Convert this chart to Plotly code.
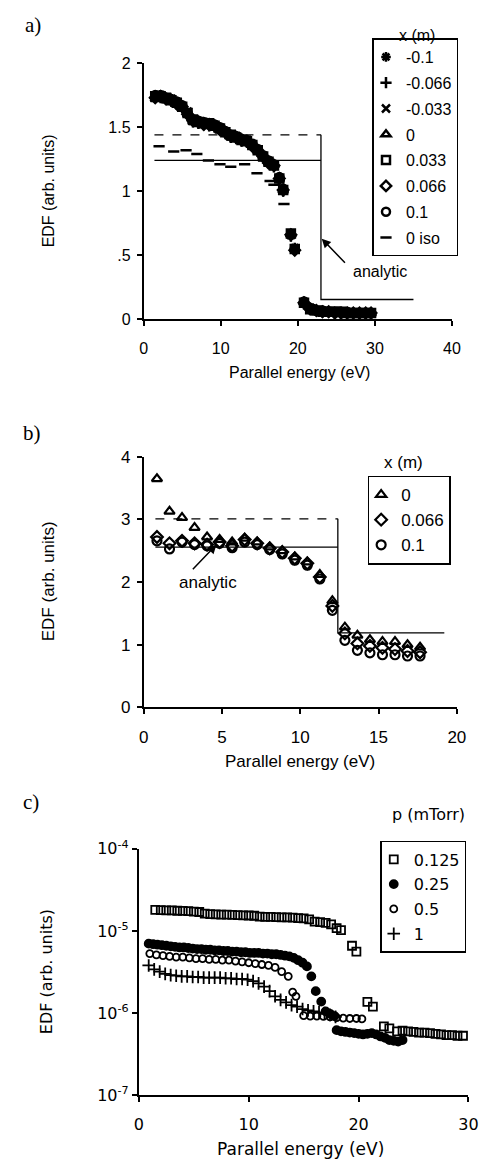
import plotly.graph_objects as go

# ---------------- Panel a ----------------
a_x = [1.5, 2.2, 2.9, 3.6, 4.3, 5.0, 5.7, 6.4, 7.1, 7.8,
       8.5, 9.2, 9.9, 10.6, 11.3, 12.0, 12.7, 13.4, 14.1, 14.8,
       15.5, 16.2, 16.9, 17.6, 18.1, 19.1, 19.6, 20.8, 21.6, 22.4,
       23.2, 24.0, 24.8, 25.6, 26.4, 27.2, 28.0, 28.8, 29.5]
a_m0100 = [1.75, 1.74, 1.73, 1.71, 1.70, 1.67, 1.61, 1.56, 1.55, 1.53,
           1.52, 1.52, 1.50, 1.47, 1.44, 1.42, 1.41, 1.39, 1.37, 1.33,
           1.28, 1.24, 1.21, 1.11, 1.02, 0.67, 0.56, 0.14, 0.08, 0.07,
           0.07, 0.06, 0.06, 0.06, 0.05, 0.05, 0.05, 0.05, 0.05]
a_m0066 = [1.73, 1.73, 1.72, 1.70, 1.68, 1.65, 1.59, 1.54, 1.53, 1.52,
           1.51, 1.50, 1.48, 1.45, 1.42, 1.41, 1.39, 1.38, 1.35, 1.31,
           1.26, 1.22, 1.19, 1.09, 1.00, 0.65, 0.54, 0.12, 0.08, 0.07,
           0.06, 0.06, 0.05, 0.05, 0.05, 0.05, 0.04, 0.04, 0.04]
a_m0033 = [1.74, 1.75, 1.72, 1.72, 1.69, 1.66, 1.62, 1.55, 1.54, 1.54,
           1.52, 1.51, 1.49, 1.46, 1.43, 1.43, 1.40, 1.40, 1.36, 1.32,
           1.27, 1.23, 1.20, 1.10, 1.01, 0.66, 0.55, 0.13, 0.09, 0.07,
           0.06, 0.06, 0.06, 0.05, 0.05, 0.05, 0.05, 0.05, 0.05]
a_p0000 = [1.72, 1.73, 1.71, 1.70, 1.68, 1.65, 1.60, 1.54, 1.53, 1.52,
           1.51, 1.50, 1.48, 1.45, 1.42, 1.41, 1.39, 1.38, 1.35, 1.31,
           1.26, 1.22, 1.21, 1.09, 1.00, 0.66, 0.55, 0.13, 0.08, 0.06,
           0.06, 0.05, 0.05, 0.05, 0.05, 0.05, 0.05, 0.04, 0.04]
a_p0033 = [1.74, 1.74, 1.73, 1.71, 1.69, 1.66, 1.61, 1.56, 1.54, 1.53,
           1.53, 1.51, 1.49, 1.46, 1.44, 1.42, 1.40, 1.39, 1.36, 1.32,
           1.27, 1.23, 1.20, 1.10, 1.01, 0.67, 0.55, 0.13, 0.08, 0.07,
           0.06, 0.06, 0.06, 0.06, 0.05, 0.05, 0.05, 0.05, 0.05]
a_p0066 = [1.73, 1.74, 1.72, 1.71, 1.68, 1.66, 1.60, 1.55, 1.54, 1.52,
           1.52, 1.51, 1.48, 1.46, 1.43, 1.42, 1.40, 1.39, 1.35, 1.32,
           1.27, 1.22, 1.20, 1.10, 1.01, 0.66, 0.54, 0.13, 0.08, 0.07,
           0.06, 0.06, 0.05, 0.05, 0.05, 0.05, 0.05, 0.05, 0.05]
a_p0100 = [1.75, 1.75, 1.73, 1.72, 1.70, 1.67, 1.61, 1.56, 1.55, 1.54,
           1.52, 1.52, 1.50, 1.47, 1.44, 1.43, 1.41, 1.40, 1.37, 1.33,
           1.28, 1.24, 1.21, 1.11, 1.02, 0.66, 0.55, 0.14, 0.09, 0.07,
           0.07, 0.06, 0.06, 0.06, 0.06, 0.05, 0.05, 0.05, 0.05]
a_iso_x = [2.0, 3.9, 5.5, 6.9, 8.4, 9.9, 11.3, 13.1, 14.7, 16.4, 16.9, 18.2]
a_iso_y = [1.35, 1.31, 1.32, 1.29, 1.24, 1.21, 1.19, 1.21, 1.14, 1.08, 1.05, 0.90]
a_names = ["-0.1", "-0.066", "-0.033", "0", "0.033", "0.066", "0.1"]
a_series = [a_m0100, a_m0066, a_m0033, a_p0000, a_p0033, a_p0066, a_p0100]
a_symbols = ["asterisk-open", "cross-thin-open", "x-thin-open", "triangle-up-open",
             "square-open", "diamond-open", "circle-open"]
# analytic curves
a_an_dash_x = [1.4, 23.0]
a_an_dash_y = [1.44, 1.44]
a_an_solid_x = [1.4, 23.0, None, 23.0, 23.0, 35.0]
a_an_solid_y = [1.24, 1.24, None, 1.44, 0.155, 0.155]
a_xticks = [0, 10, 20, 30, 40]
a_yticks = [0, 0.5, 1, 1.5, 2]
a_yticktext = ["0", ".5", "1", "1.5", "2"]

# ---------------- Panel b ----------------
b_x = [0.85, 1.65, 2.45, 3.25, 4.05, 4.85, 5.65, 6.45, 7.25, 8.05, 8.85,
       9.65, 10.45, 11.25, 12.05, 12.85, 13.65, 14.45, 15.25, 16.05, 16.85, 17.65]
b_tri = [3.65, 3.13, 3.03, 2.87, 2.72, 2.68, 2.64, 2.70, 2.64, 2.56, 2.50,
         2.40, 2.32, 2.12, 1.70, 1.28, 1.15, 1.08, 1.05, 1.05, 1.00, 0.96]
b_dia = [2.72, 2.62, 2.66, 2.62, 2.60, 2.64, 2.58, 2.68, 2.62, 2.54, 2.48,
         2.38, 2.30, 2.08, 1.62, 1.18, 1.02, 0.98, 0.95, 0.93, 0.90, 0.88]
b_cir = [2.66, 2.53, 2.64, 2.60, 2.58, 2.62, 2.55, 2.64, 2.60, 2.52, 2.45,
         2.35, 2.27, 2.05, 1.55, 1.07, 0.91, 0.87, 0.84, 0.84, 0.82, 0.82]
b_names = ["0", "0.066", "0.1"]
b_series = [b_tri, b_dia, b_cir]
b_symbols = ["triangle-up-open", "diamond-open", "circle-open"]
b_an_dash_x = [0.75, 12.4]
b_an_dash_y = [3.01, 3.01]
b_an_solid_x = [0.75, 12.4, None, 12.4, 12.4, 19.2]
b_an_solid_y = [2.56, 2.56, None, 3.01, 1.19, 1.19]
b_xticks = [0, 5, 10, 15, 20]
b_yticks = [0, 1, 2, 3, 4]

# ---------------- Panel c (EDF in units of 1e-6) ----------------
c_sq_x = [1.5, 2.0, 2.5, 3.0, 3.5, 4.0, 4.5, 5.0, 5.5, 6.0,
          6.5, 7.0, 7.5, 8.0, 8.5, 9.0, 9.5, 10.0, 10.5, 11.0,
          11.5, 12.0, 12.5, 13.0, 13.5, 14.0, 14.5, 15.0, 15.5, 16.0,
          16.5, 17.0, 17.5, 18.0, 18.4, 19.4, 19.8, 20.8, 21.3, 22.3,
          22.8, 23.5, 24.0, 24.5, 25.0, 25.5, 26.0, 26.5, 27.0, 27.5,
          28.0, 28.5, 29.0, 29.5]
c_sq_y = [18.0, 17.9, 17.8, 17.8, 17.6, 17.5, 17.4, 17.2, 17.0, 16.2,
          16.0, 15.9, 15.8, 15.8, 15.7, 15.6, 15.5, 15.4, 15.3, 14.9,
          14.8, 14.8, 14.7, 14.6, 14.6, 14.5, 14.3, 14.2, 13.8, 13.0,
          12.8, 12.5, 12.0, 10.8, 10.2, 6.6, 5.6, 1.37, 1.2, 0.69,
          0.65, 0.60, 0.61, 0.60, 0.59, 0.58, 0.58, 0.57, 0.56, 0.55,
          0.54, 0.54, 0.53, 0.53]
c_fc_x = [0.9, 1.3, 1.7, 2.1, 2.5, 2.9, 3.3, 3.7, 4.1, 4.5,
          4.9, 5.3, 5.7, 6.1, 6.5, 6.9, 7.3, 7.7, 8.1, 8.5,
          8.9, 9.3, 9.7, 10.1, 10.5, 10.9, 11.3, 11.7, 12.1, 12.5,
          12.9, 13.3, 13.7, 14.1, 14.5, 14.9, 15.3, 15.7, 16.1, 16.6,
          17.0, 17.4, 17.8, 18.0, 18.4, 18.8, 19.2, 19.6, 20.0, 20.4,
          20.8, 21.2, 21.6, 22.0, 22.4, 22.8, 23.2, 23.6, 24.0]
c_fc_y = [7.0, 6.9, 6.8, 6.7, 6.6, 6.5, 6.4, 6.3, 6.3, 6.2,
          6.1, 6.0, 6.0, 5.9, 5.9, 5.8, 5.8, 5.7, 5.7, 5.6,
          5.6, 5.5, 5.5, 5.4, 5.4, 5.4, 5.3, 5.3, 5.2, 5.2,
          5.1, 5.0, 4.9, 4.7, 4.4, 4.1, 3.7, 2.8, 1.85, 1.38,
          1.05, 0.98, 0.92, 0.62, 0.60, 0.59, 0.58, 0.57, 0.56, 0.55,
          0.56, 0.57, 0.55, 0.52, 0.50, 0.47, 0.46, 0.45, 0.47]
c_oc_x = [1.0, 1.6, 2.2, 2.8, 3.4, 4.0, 4.6, 5.2, 5.8, 6.4,
          7.0, 7.6, 8.2, 8.8, 9.4, 10.0, 10.6, 11.2, 11.8, 12.4,
          13.0, 13.6, 14.0, 14.3, 15.0, 15.6, 16.2, 16.8, 17.4, 18.0,
          18.6, 19.2, 19.8, 20.3]
c_oc_y = [5.3, 5.1, 5.0, 4.9, 4.8, 4.8, 4.7, 4.6, 4.6, 4.5,
          4.5, 4.4, 4.4, 4.3, 4.2, 4.1, 4.0, 3.9, 3.8, 3.6,
          3.2, 2.8, 1.8, 1.6, 0.93, 0.92, 0.92, 0.91, 0.90, 0.88,
          0.87, 0.86, 0.86, 0.85]
c_pl_x = [0.9, 1.4, 1.9, 2.4, 2.9, 3.4, 3.9, 4.4, 4.9, 5.4,
          5.9, 6.4, 6.9, 7.4, 7.9, 8.4, 8.9, 9.4, 9.9, 10.4,
          10.9, 11.4, 11.9, 12.4, 12.9, 13.4, 13.9, 14.4, 14.9, 15.4,
          15.9, 16.4, 16.9, 17.4, 17.9]
c_pl_y = [3.8, 3.4, 3.2, 3.0, 2.9, 2.85, 2.8, 2.8, 2.75, 2.75,
          2.7, 2.7, 2.7, 2.7, 2.65, 2.65, 2.6, 2.6, 2.55, 2.45,
          2.3, 2.1, 1.85, 1.6, 1.45, 1.35, 1.25, 1.2, 1.12, 1.08,
          1.05, 1.02, 1.0, 0.95, 0.9]
c_unit = 1e-6
c_names = ["0.125", "0.25", "0.5", "1"]
c_xs = [c_sq_x, c_fc_x, c_oc_x, c_pl_x]
c_ys = [c_sq_y, c_fc_y, c_oc_y, c_pl_y]
c_symbols = ["square-open", "circle", "circle-open", "cross-thin-open"]
c_sizes = [8, 8, 7, 9]
c_xticks = [0, 10, 20, 30]
c_yticks = [1e-7, 1e-6, 1e-5, 1e-4]
c_yticktext = ["10<sup>-7</sup>", "10<sup>-6</sup>", "10<sup>-5</sup>", "10<sup>-4</sup>"]

FONT = "Liberation Sans, Arial, sans-serif"
FONT_C = "DejaVu Sans, Verdana, sans-serif"
W, H = 494, 1175


def px(xp):
    return xp / W


def py(yp):
    return 1 - yp / H


fig = go.Figure()

# Panel a traces
fig.add_trace(go.Scatter(x=a_an_dash_x, y=a_an_dash_y, mode="lines",
                         line=dict(color="black", width=1.3, dash="dash"),
                         showlegend=False, xaxis="x", yaxis="y",
                         legend="legend", legendgroup="a0"))
fig.add_trace(go.Scatter(x=a_an_solid_x, y=a_an_solid_y, mode="lines",
                         line=dict(color="black", width=1.3),
                         showlegend=False, xaxis="x", yaxis="y",
                         legend="legend", legendgroup="a0"))
for i, (nm, ys, sym) in enumerate(zip(a_names, a_series, a_symbols)):
    fig.add_trace(go.Scatter(x=a_x, y=ys, mode="markers", name=nm,
                             marker=dict(symbol=sym, size=8, color="black",
                                         line=dict(color="black", width=2.5)),
                             xaxis="x", yaxis="y", legend="legend",
                             legendgroup="a%d" % i))
fig.add_trace(go.Scatter(x=a_iso_x, y=a_iso_y, mode="markers", name="0 iso",
                         marker=dict(symbol="line-ew-open", size=8, color="black",
                                     line=dict(color="black", width=2.5)),
                         xaxis="x", yaxis="y", legend="legend", legendgroup="a_iso"))

# Panel b traces
fig.add_trace(go.Scatter(x=b_an_dash_x, y=b_an_dash_y, mode="lines",
                         line=dict(color="black", width=1.3, dash="dash"),
                         showlegend=False, xaxis="x2", yaxis="y2",
                         legend="legend2", legendgroup="b0"))
fig.add_trace(go.Scatter(x=b_an_solid_x, y=b_an_solid_y, mode="lines",
                         line=dict(color="black", width=1.3),
                         showlegend=False, xaxis="x2", yaxis="y2",
                         legend="legend2", legendgroup="b0"))
for i, (nm, ys, sym) in enumerate(zip(b_names, b_series, b_symbols)):
    fig.add_trace(go.Scatter(x=b_x, y=ys, mode="markers", name=nm,
                             marker=dict(symbol=sym, size=9, color="black",
                                         line=dict(color="black", width=2.2)),
                             xaxis="x2", yaxis="y2", legend="legend2",
                             legendgroup="b%d" % i))

# Panel c traces
for i, (nm, xs, ys, sym, sz) in enumerate(zip(c_names, c_xs, c_ys, c_symbols, c_sizes)):
    fig.add_trace(go.Scatter(x=xs, y=[v * c_unit for v in ys], mode="markers", name=nm,
                             marker=dict(symbol=sym, size=sz, color="black",
                                         line=dict(color="black", width=1.8)),
                             xaxis="x3", yaxis="y3", legend="legend3",
                             legendgroup="c%d" % i))

axis_common = dict(showline=True, linecolor="black", linewidth=1.8, showgrid=False,
                   zeroline=False, ticks="outside", ticklen=5, tickwidth=1.5,
                   tickcolor="black", mirror=False)

fig.update_layout(
    width=W, height=H,
    margin=dict(l=0, r=0, t=0, b=0),
    paper_bgcolor="white", plot_bgcolor="white",
    font=dict(family=FONT, color="black", size=16),
    xaxis=dict(domain=[px(143), px(461)], range=[0, 40], tickvals=a_xticks,
               anchor="y", tickfont=dict(size=16), ticklabelstandoff=9, **axis_common),
    yaxis=dict(domain=[py(314), py(53)], range=[0, 2], tickvals=a_yticks,
               ticktext=a_yticktext, anchor="x", tickfont=dict(size=16),
               ticklabelstandoff=3, **axis_common),
    xaxis2=dict(domain=[px(143), px(466)], range=[0, 20], tickvals=b_xticks,
                anchor="y2", tickfont=dict(size=17), ticklabelstandoff=8, **axis_common),
    yaxis2=dict(domain=[py(709), py(454)], range=[0, 4], tickvals=b_yticks,
                anchor="x2", tickfont=dict(size=17), ticklabelstandoff=3, **axis_common),
    xaxis3=dict(domain=[px(138), px(478)], range=[0, 30], tickvals=c_xticks,
                anchor="y3", tickfont=dict(size=16, family=FONT_C), ticklabelstandoff=9,
                **axis_common),
    yaxis3=dict(domain=[py(1104), py(853)], type="log", range=[-7, -4],
                tickvals=c_yticks, ticktext=c_yticktext,
                anchor="x3", tickfont=dict(size=16, family=FONT_C), **axis_common),
    legend=dict(x=px(379), y=py(28), xanchor="left", yanchor="top",
                bordercolor="black", borderwidth=1.5, bgcolor="white",
                font=dict(size=16), traceorder="grouped", tracegroupgap=2,
                itemwidth=30, indentation=-8),
    legend2=dict(x=px(374), y=py(473), xanchor="left", yanchor="top",
                 bordercolor="black", borderwidth=1.5, bgcolor="white",
                 font=dict(size=17), traceorder="grouped", tracegroupgap=0,
                 itemwidth=30, indentation=-8),
    legend3=dict(x=px(387), y=py(845), xanchor="left", yanchor="top",
                 bordercolor="black", borderwidth=1.5, bgcolor="white",
                 font=dict(size=16, family=FONT_C), traceorder="grouped",
                 tracegroupgap=1, itemwidth=30, indentation=-8),
)

ann = []
# panel labels
for lab, xp, yp in [("a)", 29, 14), ("b)", 28, 430), ("c)", 27, 805)]:
    ann.append(dict(text=lab, x=px(xp), y=py(yp), xref="paper", yref="paper",
                    showarrow=False, xanchor="center", yanchor="middle",
                    font=dict(family="Liberation Serif, Times New Roman, serif", size=21)))
# axis titles
for txt, xp, yp, ang, sz, fam in [
    ("Parallel energy (eV)", 304, 368, 0, 16, FONT),
    ("EDF (arb. units)", 45, 183, -90, 16, FONT),
    ("Parallel energy (eV)", 304, 764, 0, 17, FONT),
    ("EDF (arb. units)", 45, 581, -90, 17, FONT),
    ("Parallel energy (eV)", 305, 1159, 0, 17, FONT_C),
    ("EDF (arb. units)", 43, 978, -90, 16, FONT_C),
]:
    ann.append(dict(text=txt, x=px(xp), y=py(yp), xref="paper", yref="paper",
                    showarrow=False, xanchor="center", yanchor="middle",
                    textangle=ang, font=dict(size=sz, family=fam)))
# legend titles
for txt, xp, yp, sz, fam in [("x (m)", 425, 25, 16, FONT), ("x (m)", 411, 460, 17, FONT),
                             ("p (mTorr)", 437, 818, 16, FONT_C)]:
    ann.append(dict(text=txt, x=px(xp), y=py(yp), xref="paper", yref="paper",
                    showarrow=False, xanchor="center", yanchor="middle",
                    font=dict(size=sz, family=fam)))
# analytic labels and arrows
ann.append(dict(text="analytic", x=30.7, y=0.37, xref="x", yref="y", showarrow=False,
                xanchor="center", yanchor="middle", font=dict(size=16)))
ann.append(dict(text="", x=23.1, y=0.63, xref="x", yref="y", ax=26.3, ay=0.43,
                axref="x", ayref="y", showarrow=True, arrowhead=2, arrowsize=1.2,
                arrowwidth=1.5, arrowcolor="black"))
ann.append(dict(text="analytic", x=4.1, y=2.0, xref="x2", yref="y2", showarrow=False,
                xanchor="center", yanchor="middle", font=dict(size=17)))
ann.append(dict(text="", x=4.65, y=2.6, xref="x2", yref="y2", ax=3.05, ay=2.18,
                axref="x2", ayref="y2", showarrow=True, arrowhead=2, arrowsize=1.2,
                arrowwidth=1.5, arrowcolor="black"))
fig.update_layout(annotations=ann)

fig.write_html("out.html")
